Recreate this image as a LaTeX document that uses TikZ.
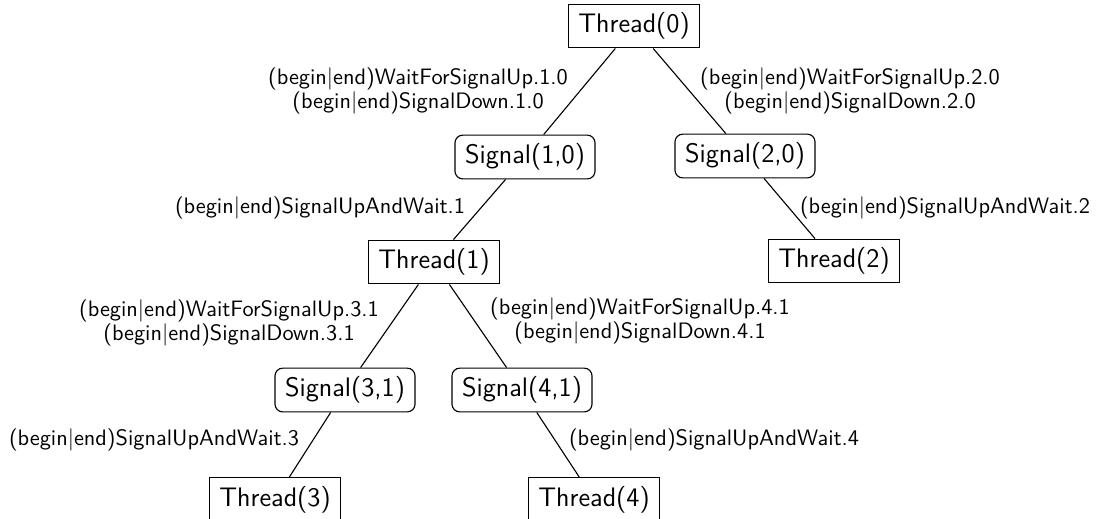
\documentclass[tikz,border=0pt]{standalone}

\tikzset{every picture/.style={line width=0.5pt}}

\begin{document}
\begin{tikzpicture}[x=0.448pt,y=0.448pt,yscale=-1,
  thread/.style={draw, rectangle, inner xsep=4.5pt, inner ysep=3.8pt, font=\sffamily\large},
  signal/.style={draw, rectangle, rounded corners=3.5pt, inner xsep=4.5pt, inner ysep=3.8pt, font=\sffamily\large},
  edgelabel/.style={align=center, inner sep=0pt, font={\sffamily\fontsize{10pt}{9.7pt}\selectfont}}]
%set diagram left start at 0, and has height of 518
\useasboundingbox (0,0) rectangle (1098,518);

%Shape: Rectangle [id:thread0]
\node [thread] (t0) at (634,26) {Thread(0)};
%Shape: Rounded Rect [id:signal10]
\node [signal] (s10) at (525,157) {Signal(1,0)};
%Shape: Rounded Rect [id:signal20]
\node [signal] (s20) at (745,156) {Signal(2,0)};
%Shape: Rectangle [id:thread1]
\node [thread] (t1) at (434,262) {Thread(1)};
%Shape: Rectangle [id:thread2]
\node [thread] (t2) at (834,261) {Thread(2)};
%Shape: Rounded Rect [id:signal31]
\node [signal] (s31) at (345,390) {Signal(3,1)};
%Shape: Rounded Rect [id:signal41]
\node [signal] (s41) at (522,390) {Signal(4,1)};
%Shape: Rectangle [id:thread3]
\node [thread] (t3) at (275,499.5) {Thread(3)};
%Shape: Rectangle [id:thread4]
\node [thread] (t4) at (594,499.5) {Thread(4)};

%Straight Lines
\draw (t0) -- (s10) ;
\draw (t0) -- (s20) ;
\draw (s10) -- (t1) ;
\draw (s20) -- (t2) ;
\draw (t1) -- (s31) ;
\draw (t1) -- (s41) ;
\draw (s31) -- (t3) ;
\draw (s41) -- (t4) ;

% Text Node
\node [edgelabel] (l10) at (418,91) {(begin|end)WaitForSignalUp.1.0\\(begin|end)SignalDown.1.0};
% Text Node
\node [edgelabel] (l20) at (850,91) {(begin|end)WaitForSignalUp.2.0\\(begin|end)SignalDown.2.0};
% Text Node
\node [edgelabel] (l11) at (320,208) {(begin|end)SignalUpAndWait.1};
% Text Node
\node [edgelabel] (l22) at (945,208) {(begin|end)SignalUpAndWait.2};
% Text Node
\node [edgelabel] (l31) at (229,323) {(begin|end)WaitForSignalUp.3.1\\(begin|end)SignalDown.3.1};
% Text Node
\node [edgelabel] (l41) at (640,321) {(begin|end)WaitForSignalUp.4.1\\(begin|end)SignalDown.4.1};
% Text Node
\node [edgelabel] (l33) at (154,440) {(begin|end)SignalUpAndWait.3};
% Text Node
\node [edgelabel] (l44) at (714,440) {(begin|end)SignalUpAndWait.4};

\end{tikzpicture}
\end{document}
